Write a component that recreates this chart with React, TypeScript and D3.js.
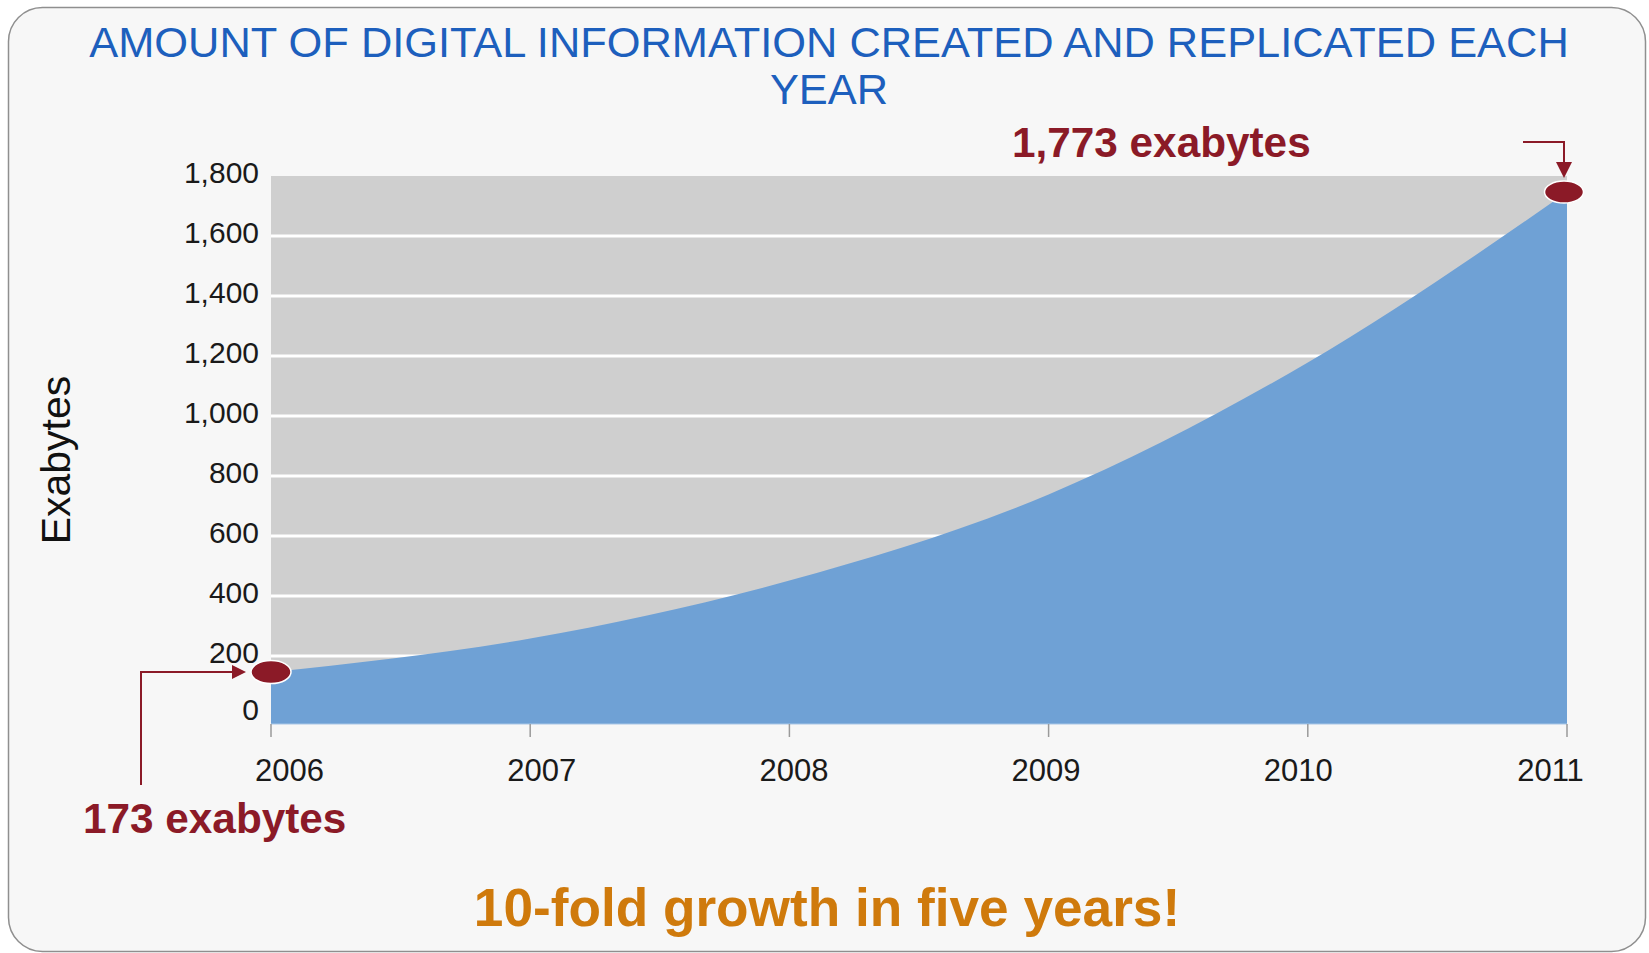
import React from "react";
import * as d3 from "d3";

const years = [2006, 2007, 2008, 2009, 2010, 2011];
const exabytes = [173, 285, 478, 765, 1205, 1773];
const yTicks = [0, 200, 400, 600, 800, 1000, 1200, 1400, 1600, 1800];
const titleLines = ["AMOUNT OF DIGITAL INFORMATION CREATED AND REPLICATED EACH", "YEAR"];
const yAxisTitle = "Exabytes";
const startNote = "173 exabytes";
const endNote = "1,773 exabytes";
const footer = "10-fold growth in five years!";

const W = 1649;
const H = 953;
const FONT = "'Liberation Sans', Arial, Helvetica, sans-serif";
const RED = "#8b1a27";

export default function App() {
  const x = d3.scaleLinear().domain([2006, 2011]).range([271, 1567]);
  const xLabel = d3.scaleLinear().domain([2006, 2011]).range([289.5, 1550.5]);
  const y = d3.scaleLinear().domain([0, 1800]).range([724, 184]);
  const gridOffset = 8;
  const fmt = d3.format(",");
  const data = years.map((yr, i) => ({ yr, v: exabytes[i] }));
  const area = d3
    .area<{ yr: number; v: number }>()
    .x((d) => x(d.yr))
    .y0(724)
    .y1((d) => y(d.v))
    .curve(d3.curveMonotoneX);

  const plotTop = y(1800) - gridOffset;
  const plotBottom = 724;
  const x0 = x(2006);
  const x1 = x(2011);
  const p0 = { x: x(years[0]), y: y(exabytes[0]) };
  const p1 = { x: x(years[5]) - 3, y: y(exabytes[5]) };

  return (
    <svg
      width={W}
      height={H}
      style={{ position: "absolute", left: 0, top: 0, display: "block" }}
    >
      <rect x={0} y={0} width={W} height={H} fill="#ffffff" />
      <rect
        x={8.5}
        y={7.5}
        width={1637}
        height={944}
        rx={34}
        ry={34}
        fill="#f7f7f7"
        stroke="#8f8f8f"
        strokeWidth={1.5}
      />
      {titleLines.map((t, i) => (
        <text
          key={i}
          x={829}
          y={57 + i * 47}
          textAnchor="middle"
          fontFamily={FONT}
          fontSize={43.4}
          fill="#1d5fbd"
        >
          {t}
        </text>
      ))}
      <rect x={x0} y={plotTop} width={x1 - x0} height={plotBottom - plotTop} fill="#cfcfcf" />
      {yTicks.slice(1, -1).map((t) => (
        <line
          key={t}
          x1={x0}
          x2={x1}
          y1={y(t) - gridOffset}
          y2={y(t) - gridOffset}
          stroke="#ffffff"
          strokeWidth={3}
        />
      ))}
      <path d={area(data) || ""} fill="#6fa1d5" />
      <line x1={x0} x2={x1} y1={724} y2={724} stroke="#a9c6e6" strokeWidth={1} />
      {years.map((yr) => (
        <line key={yr} x1={x(yr)} x2={x(yr)} y1={724} y2={737} stroke="#9a9a9a" strokeWidth={1.5} />
      ))}
      {yTicks.map((t) => (
        <text
          key={t}
          x={259}
          y={y(t) - gridOffset + 7 + (t === 0 ? -3 : 0)}
          textAnchor="end"
          fontFamily={FONT}
          fontSize={30}
          fill="#1a1a1a"
        >
          {fmt(t)}
        </text>
      ))}
      {years.map((yr) => (
        <text
          key={yr}
          x={xLabel(yr)}
          y={781}
          textAnchor="middle"
          fontFamily={FONT}
          fontSize={31}
          fill="#1a1a1a"
        >
          {yr}
        </text>
      ))}
      <text
        transform="translate(70,460) rotate(-90)"
        textAnchor="middle"
        fontFamily={FONT}
        fontSize={41}
        fill="#111"
      >
        {yAxisTitle}
      </text>

      {/* start annotation */}
      <path
        d={`M141,785 V${p0.y} H${p0.x - 38}`}
        fill="none"
        stroke={RED}
        strokeWidth={2}
      />
      <path
        d={`M${p0.x - 25},${p0.y} L${p0.x - 39},${p0.y - 7} L${p0.x - 39},${p0.y + 7} Z`}
        fill={RED}
      />
      <ellipse cx={p0.x} cy={p0.y} rx={20} ry={11.5} fill={RED} stroke="#ffffff" strokeWidth={1.5} />
      <text x={83} y={833} fontFamily={FONT} fontSize={42.3} fontWeight="bold" fill={RED}>
        {startNote}
      </text>

      {/* end annotation */}
      <path
        d={`M1523,142 H${p1.x} V${p1.y - 28}`}
        fill="none"
        stroke={RED}
        strokeWidth={2}
      />
      <path
        d={`M${p1.x},${p1.y - 14} L${p1.x - 8},${p1.y - 30} L${p1.x + 8},${p1.y - 30} Z`}
        fill={RED}
      />
      <ellipse cx={p1.x} cy={p1.y} rx={19.5} ry={11} fill={RED} stroke="#ffffff" strokeWidth={1.5} />
      <text x={1012} y={157} fontFamily={FONT} fontSize={42.3} fontWeight="bold" fill={RED}>
        {endNote}
      </text>

      <text
        x={827}
        y={926}
        textAnchor="middle"
        fontFamily={FONT}
        fontSize={53.2}
        fontWeight="bold"
        fill="#cf7a0c"
      >
        {footer}
      </text>
    </svg>
  );
}
